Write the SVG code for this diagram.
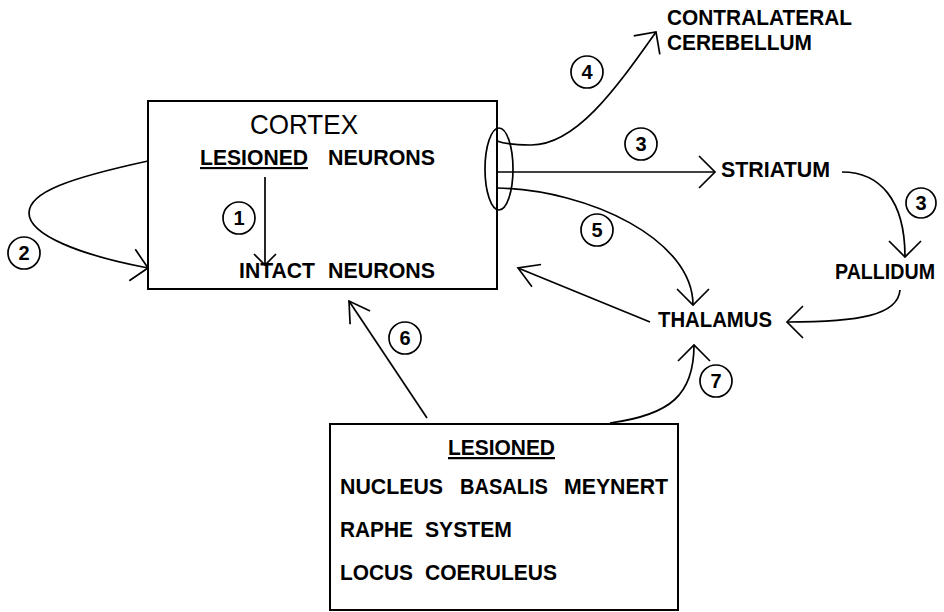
<svg xmlns="http://www.w3.org/2000/svg" width="944" height="612" viewBox="0 0 944 612">
<style>
.box{fill:none;stroke:#000;stroke-width:2}
.ln{fill:none;stroke:#000;stroke-width:1.7}
.t{font-family:"Liberation Sans",Arial,Helvetica,sans-serif;font-weight:bold;font-size:21.5px;fill:#000}
.tb{font-family:"Liberation Sans",Arial,Helvetica,sans-serif;font-weight:bold;font-size:22.5px;fill:#000}
.big{font-family:"Liberation Sans",Arial,Helvetica,sans-serif;font-size:28px;fill:#000}
.num circle{fill:#fff;stroke:#000;stroke-width:1.7}
.num text{font-family:"Liberation Sans",Arial,Helvetica,sans-serif;font-weight:bold;font-size:20px;text-anchor:middle;fill:#000}
</style>
<defs>
<marker id="arr" markerUnits="userSpaceOnUse" viewBox="-25 -20 30 40" markerWidth="30" markerHeight="40" refX="0" refY="0" orient="auto">
<path d="M-16,-16 L0,0 L-16,16" fill="none" stroke="#000" stroke-width="1.7"/>
</marker>
<marker id="arrN" markerUnits="userSpaceOnUse" viewBox="-25 -20 30 40" markerWidth="30" markerHeight="40" refX="0" refY="0" orient="auto">
<path d="M-20,-12 L0,0 L-20,12" fill="none" stroke="#000" stroke-width="1.7"/>
</marker>
<marker id="arrS" markerUnits="userSpaceOnUse" viewBox="-25 -20 30 40" markerWidth="30" markerHeight="40" refX="0" refY="0" orient="auto">
<path d="M-11,-11 L0,0 L-11,11" fill="none" stroke="#000" stroke-width="1.7"/>
</marker>
</defs>
<rect width="944" height="612" fill="#fff"/>

<g id="connectors">
<path id="c1" class="ln" d="M265,177 L265,265" marker-end="url(#arrS)"/>
<path id="c2" class="ln" d="M148,161 C70,178 29,192 29,213 C29,235 80,255 148,268" marker-end="url(#arr)"/>
<path id="c4" class="ln" d="M497,141 C505,144 520,145 530,145 C575,146 615,90 656,32" marker-end="url(#arr)"/>
<path id="c3" class="ln" d="M497,172 L715,172" marker-end="url(#arr)"/>
<path id="c5" class="ln" d="M497,188 C590,190 693,240 693,305" marker-end="url(#arr)"/>
<path id="c3b" class="ln" d="M842,172 C880,172 905,200 905,257" marker-end="url(#arr)"/>
<path id="cpt" class="ln" d="M900,290 C898,315 860,322 787,322" marker-end="url(#arr)"/>
<path id="ctc" class="ln" d="M650,322 L518,268" marker-end="url(#arrN)"/>
<path id="c6" class="ln" d="M427,418 L349,301" marker-end="url(#arrN)"/>
<path id="c7" class="ln" d="M610,423 C670,415 694,395 694,345" marker-end="url(#arr)"/>
</g>

<g id="cortex">
<rect class="box" x="148" y="101" width="349" height="188"/>
<text class="big" x="250" y="134" textLength="108" lengthAdjust="spacingAndGlyphs">CORTEX</text>
<text class="t" y="165"><tspan x="200" textLength="108" lengthAdjust="spacingAndGlyphs" text-decoration="underline">LESIONED</tspan><tspan x="328" textLength="107" lengthAdjust="spacingAndGlyphs">NEURONS</tspan></text>
<text class="t" y="278"><tspan x="239" textLength="76" lengthAdjust="spacingAndGlyphs">INTACT</tspan><tspan x="328" textLength="107" lengthAdjust="spacingAndGlyphs">NEURONS</tspan></text>
<ellipse class="ln" cx="499" cy="169" rx="14" ry="41"/>
</g>

<g id="cerebellum">
<text class="t" x="667" y="25" textLength="185" lengthAdjust="spacingAndGlyphs">CONTRALATERAL</text>
<text class="t" x="667" y="50" textLength="145" lengthAdjust="spacingAndGlyphs">CEREBELLUM</text>
</g>
<g id="striatum"><text class="t" x="721" y="177" textLength="109" lengthAdjust="spacingAndGlyphs">STRIATUM</text></g>
<g id="pallidum"><text class="t" x="835" y="279" textLength="100" lengthAdjust="spacingAndGlyphs">PALLIDUM</text></g>
<g id="thalamus"><text class="t" x="658" y="327" textLength="114" lengthAdjust="spacingAndGlyphs">THALAMUS</text></g>

<g id="lesioned-nuclei">
<rect class="box" x="330" y="424" width="348" height="186"/>
<text class="tb" x="448" y="455" textLength="107" lengthAdjust="spacingAndGlyphs" text-decoration="underline">LESIONED</text>
<text class="tb" y="494"><tspan x="340" textLength="103" lengthAdjust="spacingAndGlyphs">NUCLEUS</tspan><tspan x="460" textLength="88" lengthAdjust="spacingAndGlyphs">BASALIS</tspan><tspan x="564" textLength="104" lengthAdjust="spacingAndGlyphs">MEYNERT</tspan></text>
<text class="tb" y="537"><tspan x="340" textLength="73" lengthAdjust="spacingAndGlyphs">RAPHE</tspan><tspan x="425" textLength="87" lengthAdjust="spacingAndGlyphs">SYSTEM</tspan></text>
<text class="tb" y="580"><tspan x="340" textLength="73" lengthAdjust="spacingAndGlyphs">LOCUS</tspan><tspan x="425" textLength="132" lengthAdjust="spacingAndGlyphs">COERULEUS</tspan></text>
</g>

<g id="labels" class="num">
<g id="n1"><circle cx="239" cy="218" r="16"/><text x="239" y="225">1</text></g>
<g id="n2"><circle cx="24" cy="253" r="16"/><text x="24" y="260">2</text></g>
<g id="n3a"><circle cx="641" cy="144" r="16"/><text x="641" y="151">3</text></g>
<g id="n4"><circle cx="587" cy="72" r="16"/><text x="587" y="79">4</text></g>
<g id="n3b"><circle cx="921" cy="203" r="15"/><text x="921" y="210">3</text></g>
<g id="n5"><circle cx="597" cy="230" r="16"/><text x="597" y="237">5</text></g>
<g id="n6"><circle cx="405" cy="338" r="16"/><text x="405" y="345">6</text></g>
<g id="n7"><circle cx="716" cy="381" r="16"/><text x="716" y="388">7</text></g>
</g>
</svg>
